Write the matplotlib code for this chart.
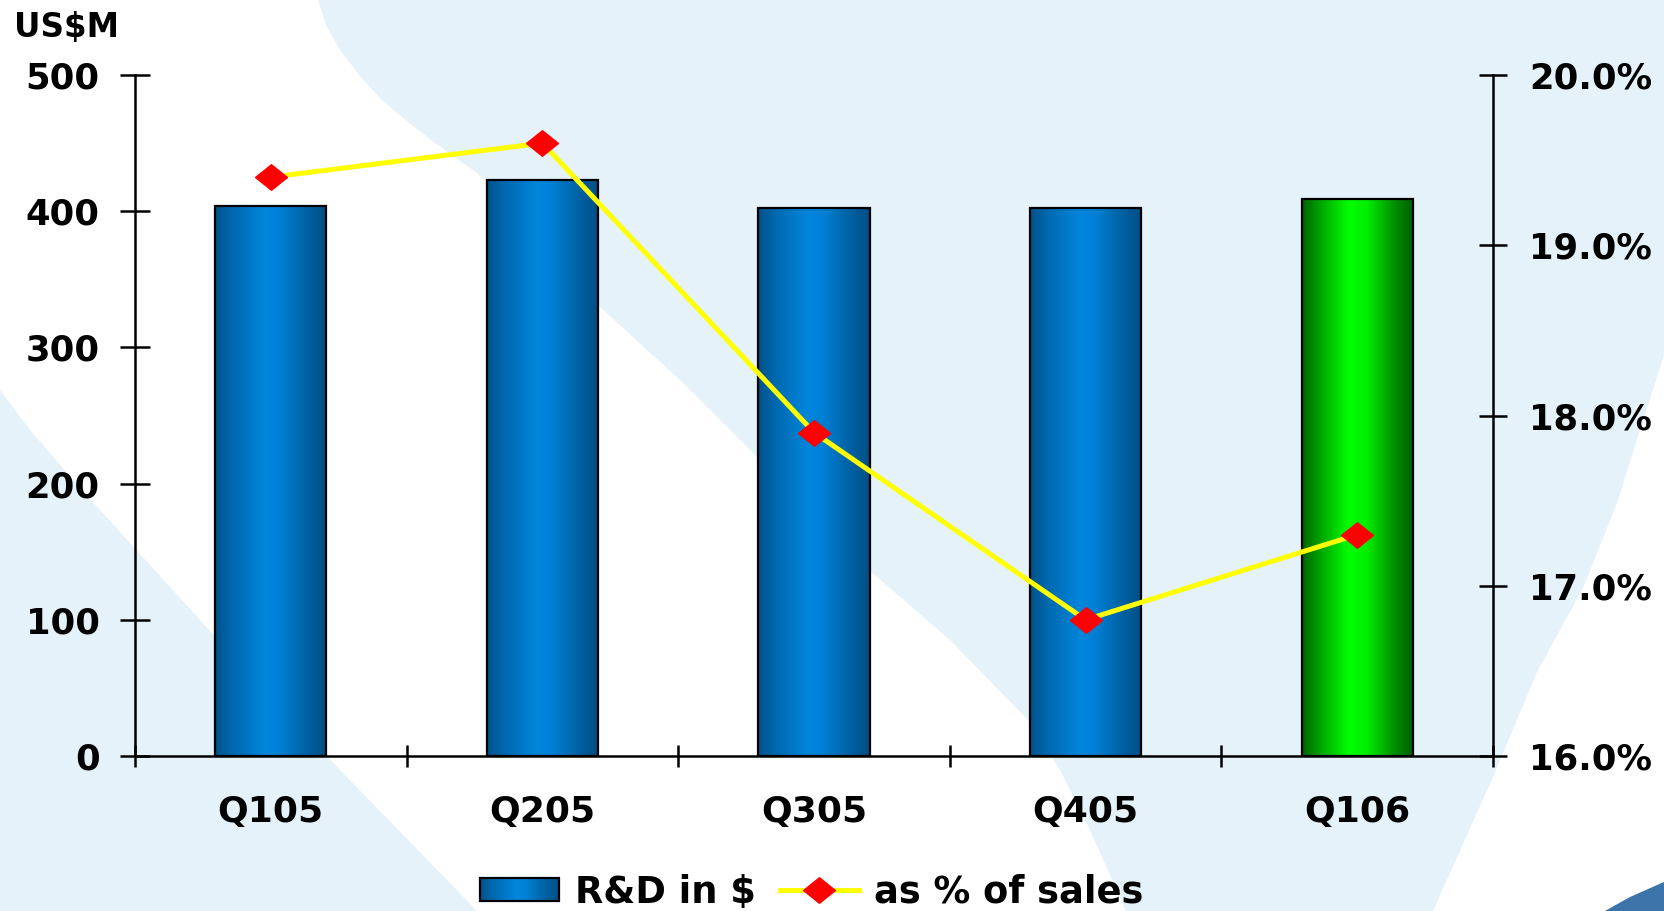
#!/usr/bin/env python3
# -*- coding: utf-8 -*-
"""
R&D spend per quarter (US$M bars) with R&D as a share of sales (line, right axis).
"""

import numpy as np
import matplotlib
matplotlib.use("Agg")
import matplotlib.pyplot as plt
from matplotlib.colors import LinearSegmentedColormap
from matplotlib.patches import Rectangle, Polygon
from matplotlib.legend_handler import HandlerBase
from matplotlib.lines import Line2D

quarters = ["Q105", "Q205", "Q305", "Q405", "Q106"]
rd_usd_m = [404, 423, 402, 402, 409]
rd_pct_sales = [19.4, 19.6, 17.9, 16.8, 17.3]
left_ticks = [0, 100, 200, 300, 400, 500]
right_ticks = [16.0, 17.0, 18.0, 19.0, 20.0]

W, H = 1664, 911
FONT = "DejaVu Sans"

blue_cm = LinearSegmentedColormap.from_list(
    "bar_blue",
    [(0.0, "#00528c"), (0.15, "#0068ae"), (0.45, "#0086dc"),
     (0.58, "#0080d4"), (0.85, "#005e9e"), (1.0, "#004e84")])
green_cm = LinearSegmentedColormap.from_list(
    "bar_green",
    [(0.0, "#006200"), (0.12, "#009400"), (0.42, "#00ff00"),
     (0.58, "#00ee00"), (0.85, "#008800"), (1.0, "#005e00")])

fig = plt.figure(figsize=(W / 100, H / 100), dpi=100, facecolor="white")

# slide-style backdrop: pale blue with white swooshes
bg = fig.add_axes([0, 0, 1, 1], zorder=-1)
bg.set_xlim(0, W)
bg.set_ylim(H, 0)
bg.axis("off")
bg.add_patch(Rectangle((0, 0), W, H, color="#e5f2fa", lw=0))
band = [(0, 0), (318, 0), (326, 25), (340, 50), (360, 76), (382, 100),
        (408, 122), (435, 143), (477, 173), (540, 240), (600, 307),
        (680, 380), (753, 453), (869, 570), (950, 640), (1028, 720),
        (1060, 770), (1090, 830), (1126, 911), (477, 911), (280, 708),
        (80, 488), (30, 430), (0, 390)]
bg.add_patch(Polygon(band, closed=True, color="white", lw=0))
right_white = [(1664, 355), (1640, 430), (1617, 503), (1583, 588),
               (1537, 672), (1493, 777), (1433, 911), (1664, 911)]
bg.add_patch(Polygon(right_white, closed=True, color="white", lw=0))
bg.add_patch(Polygon([(1605, 911), (1630, 897), (1664, 882), (1664, 911)],
                     closed=True, color="#3a74a8", lw=0))

ax = fig.add_axes([135 / W, 1 - 756 / H, 1358 / W, 681 / H])
ax.set_facecolor("none")

x = np.arange(len(quarters))
bars = ax.bar(x, rd_usd_m, width=0.41, facecolor="none", edgecolor="black",
              lw=1.6, zorder=3)
grad = np.linspace(0, 1, 256)[None, :]
for i, b in enumerate(bars):
    cm = green_cm if i == len(bars) - 1 else blue_cm
    x0, w, h = b.get_x(), b.get_width(), b.get_height()
    ax.imshow(grad, cmap=cm, extent=[x0, x0 + w, 0, h], aspect="auto",
              interpolation="bicubic", zorder=2)

ax.set_xlim(-0.5, len(quarters) - 0.5)
ax.set_ylim(0, 500)
ax.set_yticks(left_ticks)
ax.set_yticklabels([f"{v}" for v in left_ticks], fontsize=25.5,
                   fontweight="bold", family=FONT)
ax.set_xticks(np.arange(-0.5, len(quarters), 1.0))
ax.set_xticklabels([])
ax.set_xticks(x, quarters, minor=True)
for lab in ax.get_xticklabels(minor=True):
    lab.set_fontsize(26)
    lab.set_fontweight("bold")
    lab.set_family(FONT)
ax.tick_params(axis="y", direction="inout", length=21, width=1.8, pad=15)
ax.tick_params(axis="x", which="major", direction="inout", length=16,
               width=1.8)
ax.tick_params(axis="x", which="minor", length=0, pad=28)
for side in ["left", "bottom"]:
    ax.spines[side].set_linewidth(1.8)
ax.spines["top"].set_visible(False)
ax.spines["right"].set_visible(False)

ax2 = ax.twinx()
diamond = [(-1, 0), (0, 0.8), (1, 0), (0, -0.8), (-1, 0)]
ax2.plot(x, rd_pct_sales, color="#ffff00", lw=3.6, marker=diamond,
         markersize=23, markerfacecolor="#ff0000", markeredgecolor="#ff0000",
         zorder=5)
ax2.set_ylim(16, 20)
ax2.set_yticks(right_ticks)
ax2.set_yticklabels([f"{v:.1f}%" for v in right_ticks], fontsize=25.5,
                    fontweight="bold", family=FONT)
ax2.tick_params(axis="y", direction="inout", length=20, width=1.8, pad=16)
ax2.spines["right"].set_linewidth(1.8)
for side in ["top", "left", "bottom"]:
    ax2.spines[side].set_visible(False)

fig.text(14 / W, 1 - 37 / H, "US$M", fontsize=23.5, fontweight="bold",
         family=FONT, va="baseline", ha="left")


class GradientBarHandler(HandlerBase):
    def __init__(self, cmap, n=30):
        super().__init__()
        self.cmap = cmap
        self.n = n

    def create_artists(self, legend, orig_handle, xdescent, ydescent,
                       width, height, fontsize, trans):
        arts = []
        x0, y0 = -xdescent, -ydescent
        step = width / self.n
        for k in range(self.n):
            arts.append(Rectangle((x0 + k * step, y0), step * 1.05, height,
                                  facecolor=self.cmap((k + 0.5) / self.n),
                                  lw=0, transform=trans))
        arts.append(Rectangle((x0, y0), width, height, fill=False,
                              edgecolor="black", lw=1.6, transform=trans))
        return arts


bar_handle = Rectangle((0, 0), 1, 1)
line_handle = Line2D([], [], color="#ffff00", lw=3.6, marker=diamond,
                     markersize=23, markerfacecolor="#ff0000",
                     markeredgecolor="#ff0000")
fig.legend([bar_handle, line_handle], ["R&D in $", "as % of sales"],
           handler_map={bar_handle: GradientBarHandler(blue_cm)},
           loc="center", bbox_to_anchor=(812 / W, 1 - 892 / H), ncol=2,
           frameon=False, handlelength=2.15, handleheight=0.62,
           handletextpad=0.42, columnspacing=0.65, borderaxespad=0,
           borderpad=0, numpoints=1,
           prop={"family": FONT, "weight": "bold", "size": 26.5})

fig.savefig("out.png", dpi=100)
